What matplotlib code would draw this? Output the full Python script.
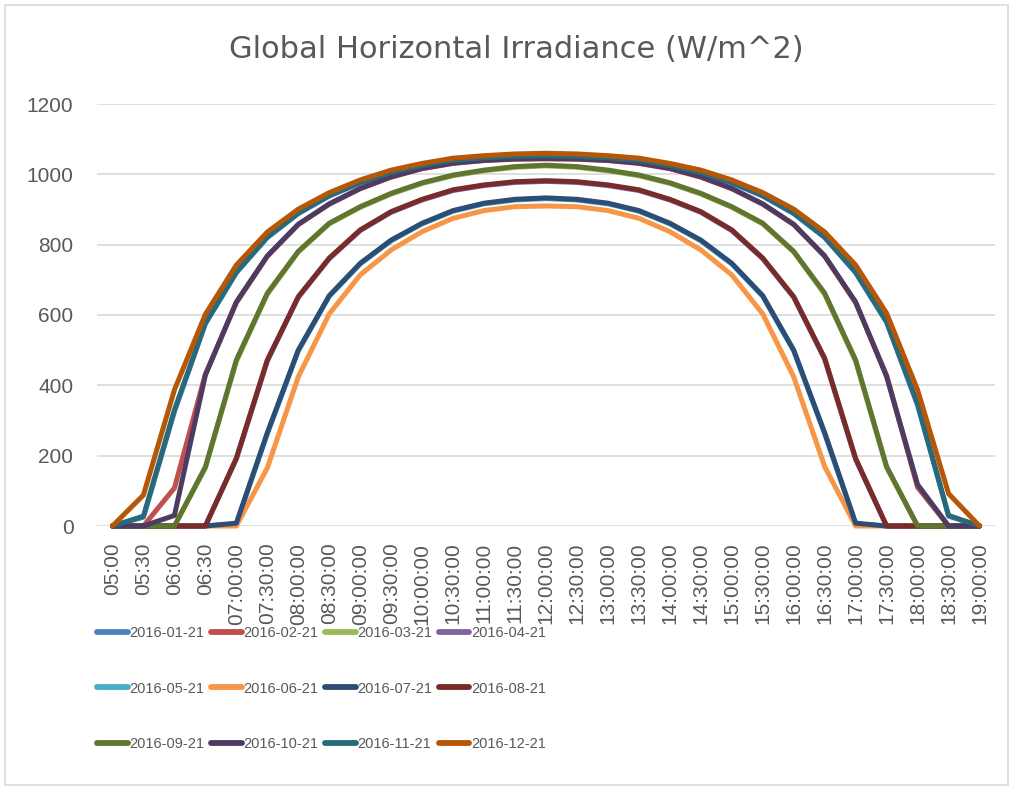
import numpy as np
import matplotlib
matplotlib.use('Agg')
import matplotlib.pyplot as plt
from matplotlib.patches import Rectangle

plt.rcParams['font.family'] = ['Liberation Sans', 'DejaVu Sans']
GREY_TXT = '#595959'

# ── Data ──────────────────────────────────────────────────────────────────────
times = ['05:00', '05:30', '06:00', '06:30',
         '07:00:00', '07:30:00', '08:00:00', '08:30:00', '09:00:00', '09:30:00',
         '10:00:00', '10:30:00', '11:00:00', '11:30:00', '12:00:00', '12:30:00',
         '13:00:00', '13:30:00', '14:00:00', '14:30:00', '15:00:00', '15:30:00',
         '16:00:00', '16:30:00', '17:00:00', '17:30:00', '18:00:00', '18:30:00',
         '19:00:00']

ghi_jan = [0, 25, 325, 575, 720, 820, 888, 938, 975, 1003, 1023, 1038, 1045, 1049, 1051,
           1049, 1045, 1038, 1023, 1003, 975, 938, 888, 820, 720, 579, 343, 28, 0]
ghi_feb = [0, 0, 108, 432, 635, 767, 857, 915, 959, 992, 1016, 1031, 1039, 1043, 1044,
           1043, 1039, 1031, 1016, 992, 959, 915, 857, 767, 635, 428, 110, 0, 0]
ghi_mar = [0, 0, 0, 165, 468, 659, 779, 859, 906, 944, 974, 996, 1010, 1020, 1024,
           1020, 1010, 996, 974, 944, 906, 859, 779, 659, 468, 166, 0, 0, 0]
ghi_apr = [0, 0, 0, 0, 190, 469, 650, 760, 840, 892, 927, 954, 968, 977, 980,
           977, 968, 954, 927, 892, 840, 760, 650, 474, 189, 0, 0, 0, 0]
ghi_may = [0, 0, 0, 0, 6, 262, 498, 653, 745, 811, 859, 895, 916, 927, 931,
           927, 916, 895, 859, 811, 745, 653, 498, 262, 6, 0, 0, 0, 0]
ghi_jun = [0, 0, 0, 0, 0, 165, 424, 603, 714, 785, 837, 875, 897, 908, 910,
           908, 897, 875, 837, 785, 714, 603, 424, 169, 0, 0, 0, 0, 0]
ghi_jul = [0, 0, 0, 0, 8, 265, 500, 655, 747, 813, 861, 897, 918, 929, 933,
           929, 918, 897, 861, 813, 747, 655, 500, 265, 8, 0, 0, 0, 0]
ghi_aug = [0, 0, 0, 0, 193, 472, 652, 762, 842, 894, 929, 956, 970, 979, 982,
           979, 970, 956, 929, 894, 842, 762, 652, 477, 192, 0, 0, 0, 0]
ghi_sep = [0, 0, 0, 168, 472, 662, 781, 861, 908, 946, 976, 998, 1012, 1022, 1026,
           1022, 1012, 998, 976, 946, 908, 861, 781, 662, 472, 169, 0, 0, 0]
ghi_oct = [0, 0, 30, 429, 637, 768, 858, 916, 960, 993, 1017, 1032, 1040, 1044, 1045,
           1044, 1040, 1032, 1017, 993, 960, 916, 858, 768, 637, 425, 118, 0, 0]
ghi_nov = [0, 28, 330, 577, 722, 822, 890, 940, 977, 1005, 1025, 1040, 1047, 1051, 1053,
           1051, 1047, 1040, 1025, 1005, 977, 940, 890, 822, 722, 581, 348, 30, 0]
ghi_dec = [0, 88, 387, 602, 742, 836, 901, 948, 984, 1012, 1031, 1046, 1053, 1058, 1060,
           1058, 1053, 1046, 1031, 1012, 984, 948, 901, 836, 742, 605, 387, 92, 0]

dates = ['2016-01-21', '2016-02-21', '2016-03-21', '2016-04-21', '2016-05-21', '2016-06-21',
         '2016-07-21', '2016-08-21', '2016-09-21', '2016-10-21', '2016-11-21', '2016-12-21']
series = [ghi_jan, ghi_feb, ghi_mar, ghi_apr, ghi_may, ghi_jun,
          ghi_jul, ghi_aug, ghi_sep, ghi_oct, ghi_nov, ghi_dec]

# Excel 2010 palette
colors = ['#4F81BD', '#C0504D', '#9BBB59', '#8064A2', '#4BACC6', '#F79646',
          '#2C4D75', '#772C2A', '#5F7530', '#4D3B62', '#276A7C', '#B65708']

# ── Figure ────────────────────────────────────────────────────────────────────
fig = plt.figure(figsize=(10.11, 7.87), dpi=100)
ax = fig.add_axes([97 / 1011, 1 - 526 / 787, 898 / 1011, 422 / 787])

x = np.arange(len(times))
lines = []
for vals, lab, c in zip(series, dates, colors):
    ln, = ax.plot(x, vals, color=c, linewidth=3.6, label=lab,
                  solid_joinstyle='round', solid_capstyle='round', clip_on=False, zorder=3)
    lines.append(ln)

ax.set_xlim(-0.5, len(times) - 0.5)
ax.set_ylim(0, 1200)
ax.set_yticks(range(0, 1201, 200))
ax.set_xticks(x)
ax.set_xticklabels(times, rotation=90)
ax.tick_params(axis='both', length=0, labelsize=15, labelcolor=GREY_TXT)
ax.tick_params(axis='y', pad=17)
ax.tick_params(axis='x', pad=12)
for s in ax.spines.values():
    s.set_visible(False)
ax.grid(axis='y', color='#D9D9D9', linewidth=1.2, zorder=0)
ax.set_axisbelow(True)

fig.text(516 / 1011, 1 - 50 / 787, 'Global Horizontal Irradiance (W/m^2)',
         ha='center', va='center', fontsize=22, color=GREY_TXT,
         family=['DejaVu Sans'])

# legend laid out row by row like Excel
order = [0, 4, 8, 1, 5, 9, 2, 6, 10, 3, 7, 11]
leg = fig.legend([lines[i] for i in order], [dates[i] for i in order],
                 ncol=4, loc='upper left', bbox_to_anchor=(97 / 1011, 1 - 626 / 787),
                 frameon=False, borderpad=0, borderaxespad=0,
                 handlelength=2.1, handletextpad=0.12, columnspacing=0.45,
                 labelspacing=2.85,
                 prop={'size': 10.5})
for t in leg.get_texts():
    t.set_color(GREY_TXT)
for h in leg.legend_handles:
    h.set_linewidth(4.2)

# chart area border
fig.patches.append(Rectangle((5 / 1011, 2 / 787), 1003 / 1011, 780 / 787,
                             transform=fig.transFigure, fill=False,
                             edgecolor='#D9D9D9', linewidth=1.2))

fig.savefig('out.png', dpi=100)
